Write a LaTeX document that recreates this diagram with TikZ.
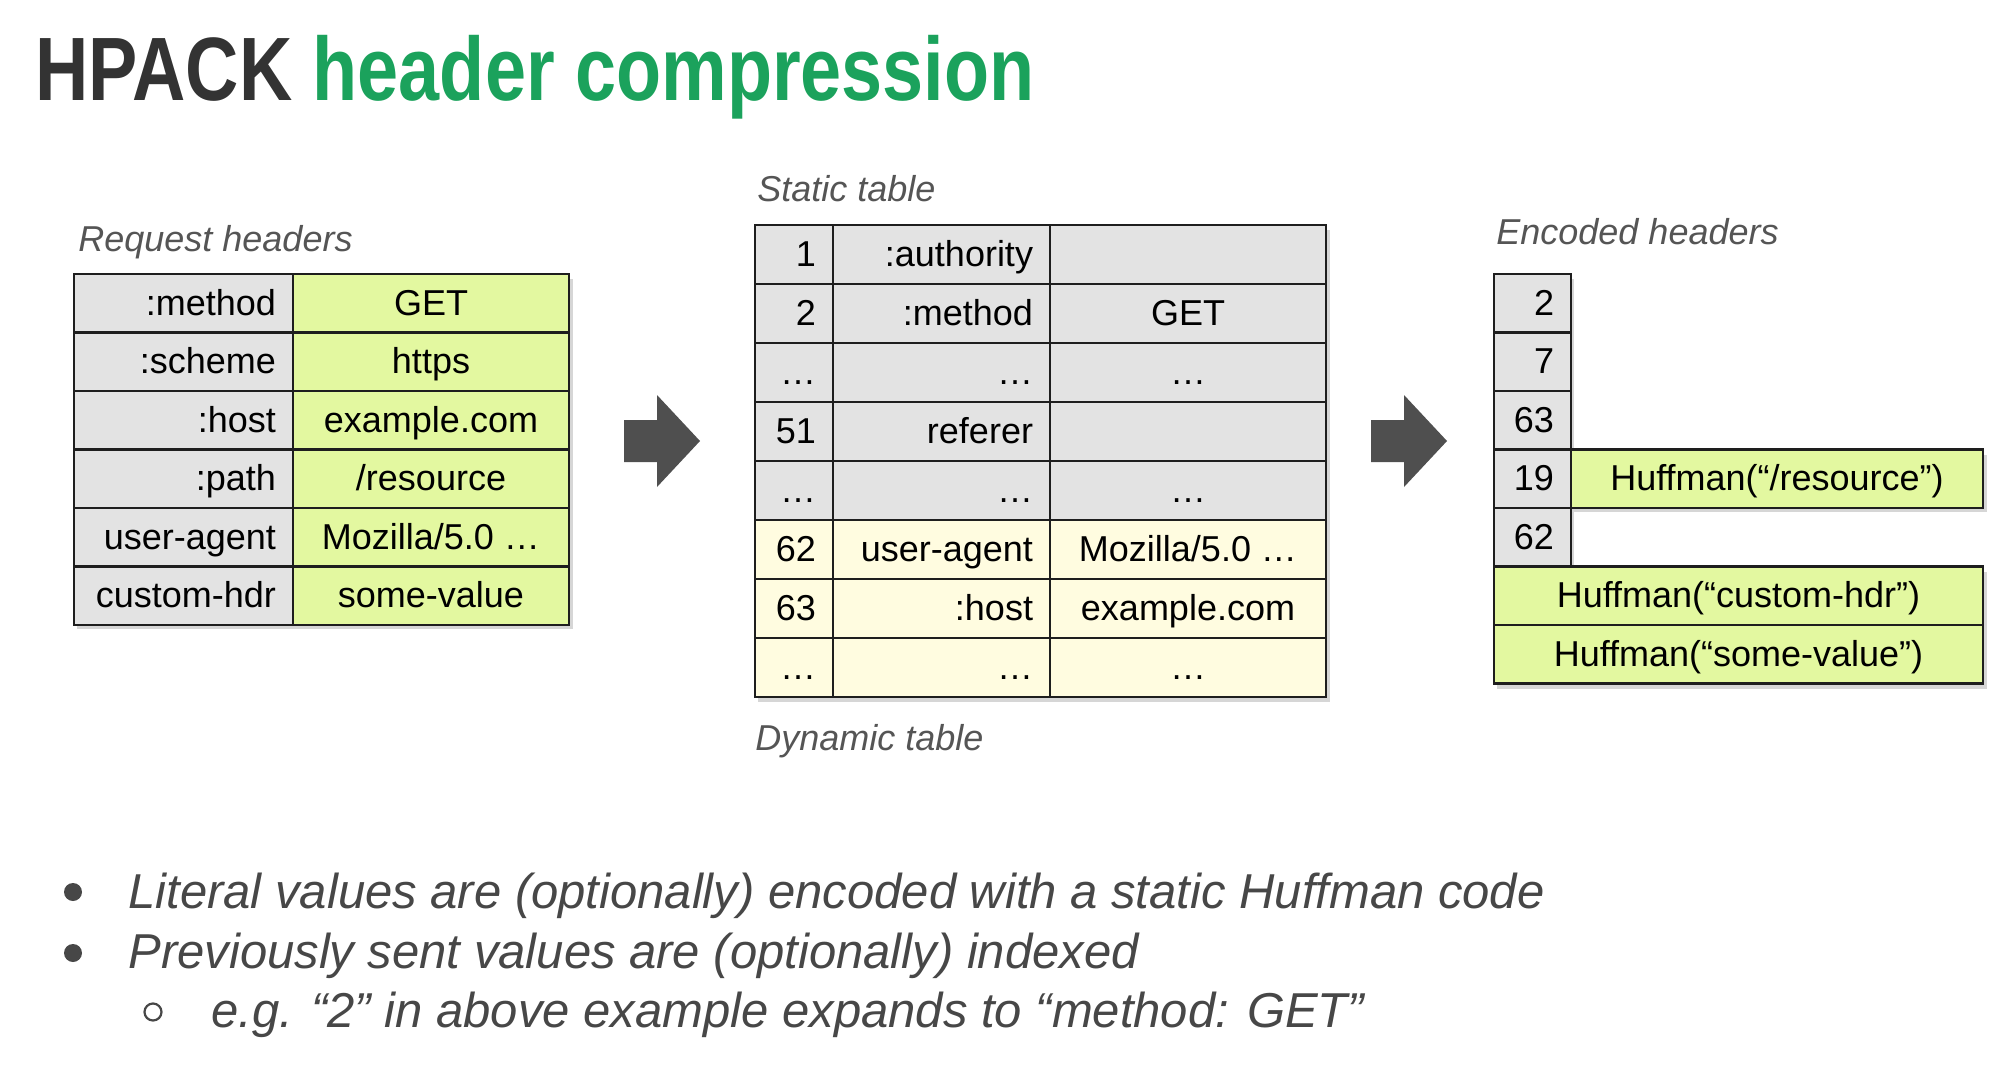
\documentclass[tikz,border=0pt]{standalone}
\usepackage{fontspec}
\setmainfont{Liberation Sans}
\newfontfamily\titlefont[FakeStretch=0.82]{Liberation Sans}
\definecolor{titledark}{HTML}{333333}
\definecolor{titlegreen}{HTML}{1BA25C}
\definecolor{keygrey}{HTML}{E3E3E3}
\definecolor{vallime}{HTML}{E3F8A0}
\definecolor{dyncream}{HTML}{FFFCE0}
\definecolor{cellline}{HTML}{1E1E1E}
\definecolor{labelgrey}{HTML}{555555}
\definecolor{bulletgrey}{HTML}{474747}
\definecolor{arrowgrey}{HTML}{4F4F4F}
\tikzset{
  cell/.style={draw=cellline, line width=1.4pt, anchor=north west, outer sep=0pt,
    inner sep=0pt, inner xsep=8.5pt, minimum height=29.25pt,
    text height=12.9pt, text depth=1pt, font=\fontsize{18}{20}\selectfont},
  keycell/.style={cell, fill=keygrey, text width=#1, align=right},
  keymid/.style={keycell=#1, minimum height=29.5pt},
  dynkey/.style={keymid=#1, fill=dyncream},
  valcell/.style={cell, fill=vallime, minimum width=#1},
  valmid/.style={cell, fill=keygrey, minimum width=#1, minimum height=29.5pt},
  dynval/.style={valmid=#1, fill=dyncream},
  caption/.style={anchor=base west, inner sep=0pt, text=labelgrey,
    font=\fontsize{18}{20}\selectfont\itshape},
  bullettext/.style={anchor=base west, inner sep=0pt, text=bulletgrey,
    font=\fontsize{24.5}{28}\selectfont\itshape},
  shade/.style={fill=black, opacity=0.16}
}
\begin{document}
\begin{tikzpicture}[x=0.5pt, y=-0.5pt]
  \useasboundingbox (0,0) rectangle (2006,1076);

  \node[anchor=base west, inner sep=0pt] (title) at (35,100)
    {\titlefont\bfseries\fontsize{45}{50}\selectfont\color{titledark}HPACK
     \color{titlegreen}header compression};

  % request headers
  \node[caption] (reqlbl) at (78,251) {Request headers};
  \fill[shade] (77,279) rectangle (573,629);
  \node[keycell=92.5pt] (rk1) at (74,274) {:method};
  \node[valcell=138pt] (rv1) at (293,274) {GET};
  \node[keycell=92.5pt] (rk2) at (74,332.5) {:scheme};
  \node[valcell=138pt] (rv2) at (293,332.5) {https};
  \node[keycell=92.5pt] (rk3) at (74,391) {:host};
  \node[valcell=138pt] (rv3) at (293,391) {example.com};
  \node[keycell=92.5pt] (rk4) at (74,449.5) {:path};
  \node[valcell=138pt] (rv4) at (293,449.5) {/resource};
  \node[keycell=92.5pt] (rk5) at (74,508) {user-agent};
  \node[valcell=138pt] (rv5) at (293,508) {Mozilla/5.0 …};
  \node[keycell=92.5pt] (rk6) at (74,566.5) {custom-hdr};
  \node[valcell=138pt] (rv6) at (293,566.5) {some-value};

  \fill[arrowgrey] (624,420) -- (657,420) -- (657,395) -- (700,441)
    -- (657,487) -- (657,462) -- (624,462) -- cycle;

  % static and dynamic table
  \node[caption] (statlbl) at (757,201) {Static table};
  \fill[shade] (758,230) rectangle (1330,702);
  \node[keymid=22pt] (si1) at (755,225) {1};
  \node[keymid=91.5pt] (sn1) at (833,225) {:authority};
  \node[valmid=138pt] (sv1) at (1050,225) {};
  \node[keymid=22pt] (si2) at (755,284) {2};
  \node[keymid=91.5pt] (sn2) at (833,284) {:method};
  \node[valmid=138pt] (sv2) at (1050,284) {GET};
  \node[keymid=22pt] (si3) at (755,343) {…};
  \node[keymid=91.5pt] (sn3) at (833,343) {…};
  \node[valmid=138pt] (sv3) at (1050,343) {…};
  \node[keymid=22pt] (si4) at (755,402) {51};
  \node[keymid=91.5pt] (sn4) at (833,402) {referer};
  \node[valmid=138pt] (sv4) at (1050,402) {};
  \node[keymid=22pt] (si5) at (755,461) {…};
  \node[keymid=91.5pt] (sn5) at (833,461) {…};
  \node[valmid=138pt] (sv5) at (1050,461) {…};
  \node[dynkey=22pt] (di1) at (755,520) {62};
  \node[dynkey=91.5pt] (dn1) at (833,520) {user-agent};
  \node[dynval=138pt] (dv1) at (1050,520) {Mozilla/5.0 …};
  \node[dynkey=22pt] (di2) at (755,579) {63};
  \node[dynkey=91.5pt] (dn2) at (833,579) {:host};
  \node[dynval=138pt] (dv2) at (1050,579) {example.com};
  \node[dynkey=22pt] (di3) at (755,638) {…};
  \node[dynkey=91.5pt] (dn3) at (833,638) {…};
  \node[dynval=138pt] (dv3) at (1050,638) {…};
  \node[caption] (dynlbl) at (755,750) {Dynamic table};

  \fill[arrowgrey] (1371,420) -- (1404,420) -- (1404,395) -- (1447,441)
    -- (1404,487) -- (1404,462) -- (1371,462) -- cycle;

  % encoded headers
  \node[caption] (enclbl) at (1496,244) {Encoded headers};
  \fill[shade] (1497,279) rectangle (1574,571);
  \fill[shade] (1574,454.5) rectangle (1987,512);
  \fill[shade] (1497,571.5) rectangle (1987,688.5);
  \node[keycell=21.5pt] (e1) at (1494,274) {2};
  \node[keycell=21.5pt] (e2) at (1494,332.5) {7};
  \node[keycell=21.5pt] (e3) at (1494,391) {63};
  \node[keycell=21.5pt] (e4) at (1494,449.5) {19};
  \node[valcell=206pt] (h1) at (1571,449.5) {Huffman(“/resource”)};
  \node[keycell=21.5pt] (e5) at (1494,508) {62};
  \node[valcell=244.5pt] (h2) at (1494,566.5) {Huffman(“custom-hdr”)};
  \node[valcell=244.5pt] (h3) at (1494,625) {Huffman(“some-value”)};

  % notes
  \node[circle, fill=bulletgrey, minimum size=9pt, inner sep=0pt] (dot1) at (73,892) {};
  \node[bullettext] (note1) at (128,908) {Literal values are (optionally) encoded with a static Huffman code};
  \node[circle, fill=bulletgrey, minimum size=9pt, inner sep=0pt] (dot2) at (73,953) {};
  \node[bullettext] (note2) at (128,968) {Previously sent values are (optionally) indexed};
  \node[circle, draw=bulletgrey, line width=1.1pt, minimum size=8.5pt, inner sep=0pt] (dot3) at (153,1012) {};
  \node[bullettext] (note3) at (211,1027) {e.g. “2” in above example expands to “method: GET”};
\end{tikzpicture}
\end{document}
